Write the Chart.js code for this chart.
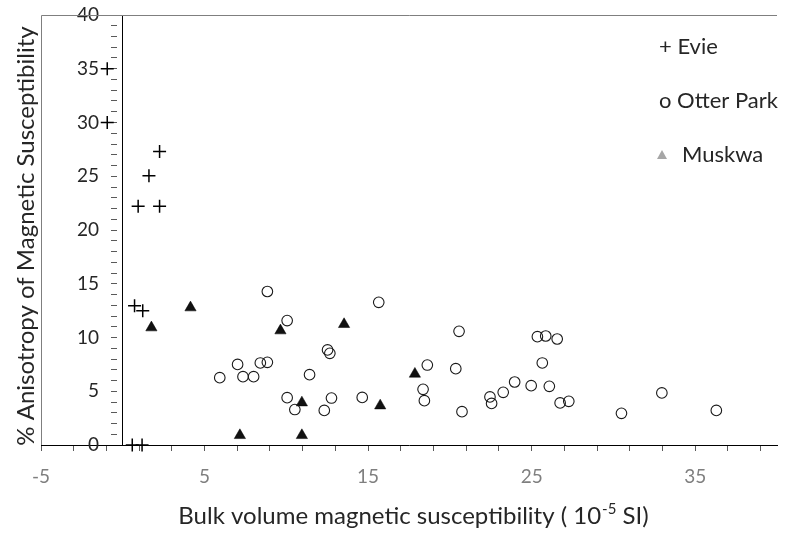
<!DOCTYPE html>
<html>
<head>
<meta charset="utf-8">
<script src="https://cdn.jsdelivr.net/npm/chart.js@4.4.1/dist/chart.umd.min.js"></script>
<style>
  html, body { margin: 0; padding: 0; background: #ffffff; }
  #wrap { width: 785px; height: 534px; position: relative; }
</style>
</head>
<body>
<div id="wrap"><canvas id="c" width="785" height="534"></canvas></div>
<script>
// ---- data ----
const evieX = [-0.95, -0.95, 2.25, 1.6, 0.94, 2.25, 0.72, 1.22, 0.58, 1.18];
const evieY = [35.0, 30.0, 27.3, 25.05, 22.2, 22.2, 12.95, 12.5, 0, 0];

const otterX = [5.93, 7.02, 7.35, 8.0, 8.41, 8.84, 8.84, 10.05, 10.05, 10.52,
                11.42, 12.52, 12.66, 12.76, 12.32, 14.64, 15.65, 18.62, 18.36, 18.44,
                20.56, 20.36, 20.74, 22.45, 22.55, 23.26, 23.96, 24.97, 25.35, 25.86,
                26.56, 25.65, 26.08, 26.74, 27.27, 30.49, 32.96, 36.29];
const otterY = [6.26, 7.5, 6.36, 6.36, 7.63, 7.69, 14.28, 11.57, 4.4, 3.3,
                6.54, 8.84, 8.53, 4.37, 3.22, 4.43, 13.27, 7.44, 5.18, 4.12,
                10.57, 7.1, 3.1, 4.47, 3.87, 4.9, 5.86, 5.52, 10.08, 10.14,
                9.86, 7.63, 5.46, 3.91, 4.06, 2.95, 4.84, 3.22];

const muskwaX = [1.75, 4.14, 7.16, 9.64, 13.53, 10.95, 10.95, 15.74, 17.86];
const muskwaY = [10.92, 12.78, 0.9, 10.64, 11.23, 3.94, 0.9, 3.66, 6.61];

const seriesNames = ['Evie', 'Otter Park', 'Muskwa'];
const legendTexts = ['+ Evie', 'o Otter Park', 'Muskwa'];
const xLabelValues = [-5, 5, 15, 25, 35];
const yLabelValues = [0, 5, 10, 15, 20, 25, 30, 35, 40];
const xTitle = 'Bulk volume magnetic susceptibility ( 10';
const xTitleSup = '-5';
const xTitleEnd = ' SI)';
const yTitle = '% Anisotropy of Magnetic Susceptibility';

const FONT = 'Lato, "Open Sans", sans-serif';
const X_MIN = -5, X_MAX = 40;
// pixels per x unit (chart area spans 41..785)
const PX_PER_X = (785 - 41) / (X_MAX - X_MIN);

function pts(xs, ys) { return xs.map((x, i) => ({ x: x, y: ys[i] })); }

const decor = {
  id: 'decor',
  beforeDatasetsDraw(chart) {
    const { ctx, chartArea: a } = chart;
    ctx.save();
    ctx.strokeStyle = '#7f7f7f';
    ctx.lineWidth = 1;
    ctx.beginPath();
    ctx.moveTo(Math.round(a.left) + 0.5, Math.round(a.bottom));
    ctx.lineTo(Math.round(a.left) + 0.5, Math.round(a.top) + 0.5);
    ctx.lineTo(a.right, Math.round(a.top) + 0.5);
    ctx.stroke();
    ctx.restore();
  },
  afterDraw(chart) {
    const { ctx } = chart;
    ctx.save();
    // y title
    ctx.fillStyle = '#262626';
    ctx.font = '24px ' + FONT;
    ctx.textAlign = 'center';
    ctx.textBaseline = 'middle';
    ctx.translate(26, 236);
    ctx.rotate(-Math.PI / 2);
    ctx.fillText(yTitle, 0, 0);
    ctx.restore();

    // x title with superscript
    ctx.save();
    ctx.fillStyle = '#262626';
    ctx.textBaseline = 'alphabetic';
    ctx.textAlign = 'left';
    ctx.font = '24px ' + FONT;
    const w1 = ctx.measureText(xTitle).width;
    const w3 = ctx.measureText(xTitleEnd).width;
    ctx.font = '15px ' + FONT;
    const w2 = ctx.measureText(xTitleSup).width;
    const total = w1 + w2 + w3;
    let x = 413 - total / 2;
    const base = 524;
    ctx.font = '24px ' + FONT;
    ctx.fillText(xTitle, x, base);
    x += w1;
    ctx.font = '15px ' + FONT;
    ctx.fillText(xTitleSup, x + 1, base - 10);
    x += w2 + 1;
    ctx.font = '24px ' + FONT;
    ctx.fillText(xTitleEnd, x, base);
    ctx.restore();

    // legend
    ctx.save();
    ctx.fillStyle = '#262626';
    ctx.font = '22px ' + FONT;
    ctx.textAlign = 'left';
    ctx.textBaseline = 'middle';
    ctx.fillText(legendTexts[0], 659, 47);
    ctx.fillText(legendTexts[1], 659, 101);
    ctx.fillText(legendTexts[2], 682, 155);
    ctx.fillStyle = '#a6a6a6';
    ctx.beginPath();
    ctx.moveTo(662, 150);
    ctx.lineTo(667, 159);
    ctx.lineTo(657, 159);
    ctx.closePath();
    ctx.fill();
    ctx.restore();
  }
};

function yTickBuilder(scale) {
  const t = [];
  for (let v = 0; v <= 40; v += 1) t.push({ value: v });
  scale.ticks = t;
}

new Chart(document.getElementById('c'), {
  type: 'scatter',
  data: {
    datasets: [
      {
        label: seriesNames[0],
        data: pts(evieX, evieY),
        pointStyle: 'cross',
        pointRadius: 6.5,
        pointBorderWidth: 1.5,
        borderColor: '#000000',
        backgroundColor: '#000000',
        clip: false
      },
      {
        label: seriesNames[1],
        data: pts(otterX, otterY),
        pointStyle: 'circle',
        pointRadius: 5.3,
        pointBorderWidth: 1.1,
        borderColor: '#1a1a1a',
        backgroundColor: 'rgba(255,255,255,0)',
        clip: false
      },
      {
        label: seriesNames[2],
        data: pts(muskwaX, muskwaY),
        pointStyle: 'triangle',
        pointRadius: 6.5,
        pointBorderWidth: 0.5,
        borderColor: '#000000',
        backgroundColor: '#111111',
        clip: false
      }
    ]
  },
  options: {
    responsive: false,
    animation: false,
    events: [],
    layout: { padding: { left: 41, top: 15, right: 0, bottom: 0 } },
    plugins: { legend: { display: false }, tooltip: { enabled: false } },
    scales: {
      x: {
        type: 'linear',
        position: 'bottom',
        min: X_MIN,
        max: X_MAX,
        afterFit(scale) { scale.height = 89; },
        afterBuildTicks(scale) {
          const t = [];
          for (let v = X_MIN; v <= X_MAX; v += 2) t.push({ value: v });
          scale.ticks = t;
        },
        ticks: {
          autoSkip: false,
          maxRotation: 0,
          padding: 14,
          color: '#7f7f7f',
          font: { family: FONT, size: 19 },
          callback: (v) => xLabelValues.includes(v) ? String(v) : ''
        },
        grid: { drawOnChartArea: false, drawTicks: true, tickLength: 6, color: '#595959' },
        border: { display: true, color: '#000000', width: 1 }
      },
      // main y axis: the line crossing the x axis at x = 0
      y: {
        type: 'linear',
        position: { x: 0 },
        min: 0,
        max: 40,
        afterBuildTicks: yTickBuilder,
        ticks: { display: false, autoSkip: false },
        grid: { display: false, drawOnChartArea: false, drawTicks: false },
        border: { display: true, color: '#000000', width: 1 }
      },
      // minor/major tick marks of the y axis, 6 px to its left
      yTicks: {
        type: 'linear',
        axis: 'y',
        position: { x: -6 / PX_PER_X },
        min: 0,
        max: 40,
        afterBuildTicks: yTickBuilder,
        ticks: { display: false, autoSkip: false },
        grid: { drawOnChartArea: false, drawTicks: true, tickLength: 6, color: '#595959' },
        border: { display: false }
      },
      // tick labels of the y axis, right-aligned 24 px left of it
      yLabels: {
        type: 'linear',
        axis: 'y',
        position: { x: -24 / PX_PER_X },
        min: 0,
        max: 40,
        afterBuildTicks: yTickBuilder,
        ticks: {
          autoSkip: false,
          color: '#262626',
          font: { family: FONT, size: 19 },
          callback: (v) => yLabelValues.includes(v) ? String(v) : ''
        },
        grid: { display: false, drawOnChartArea: false, drawTicks: false },
        border: { display: false }
      }
    }
  },
  plugins: [decor]
});
</script>
</body>
</html>
